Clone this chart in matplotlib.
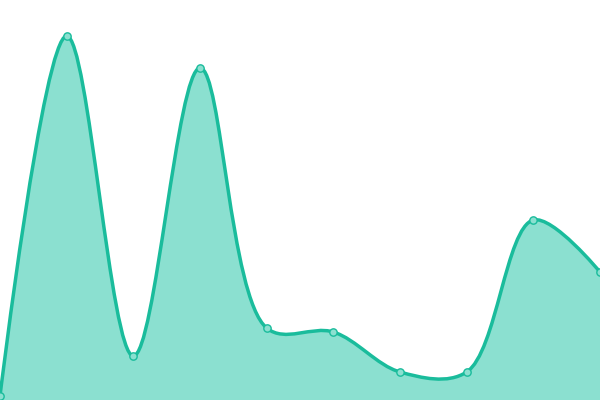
import matplotlib
matplotlib.use("Agg")
import matplotlib.pyplot as plt
from matplotlib.path import Path
from matplotlib.patches import PathPatch
import numpy as np

# data
x_index = [0, 1, 2, 3, 4, 5, 6, 7, 8, 9]
values = [4, 364, 44, 332, 72, 68, 28, 28, 180, 128]

LINE = "#1abc9c"
FILL = "#8be0d0"
POINT = "#8be0d0"
ALPHA = 0.5
EPS = 1e-12

fig = plt.figure(figsize=(6, 4), dpi=100)
ax = fig.add_axes([0, 0, 1, 1])
ax.set_xlim(0, 9)
ax.set_ylim(0, 400)
ax.axis("off")

xs = np.array(x_index, dtype=float)
ys = np.array(values, dtype=float)
n = len(xs)

sx = 600.0 / 9.0
P = np.column_stack([xs * sx, ys])

def to_data(q):
    return (q[0] / sx, q[1])

verts = [to_data(P[0])]
codes = [Path.MOVETO]
for i in range(n - 1):
    p0 = P[max(i - 1, 0)]
    p1 = P[i]
    p2 = P[i + 1]
    p3 = P[min(i + 2, n - 1)]
    l01 = np.hypot(*(p1 - p0))
    l12 = np.hypot(*(p2 - p1))
    l23 = np.hypot(*(p3 - p2))
    l01a, l12a, l23a = l01 ** ALPHA, l12 ** ALPHA, l23 ** ALPHA
    l01_2a, l12_2a, l23_2a = l01a ** 2, l12a ** 2, l23a ** 2
    c1 = p1.copy()
    c2 = p2.copy()
    if l01a > EPS:
        a = 2 * l01_2a + 3 * l01a * l12a + l12_2a
        m = 3 * l01a * (l01a + l12a)
        c1 = (p1 * a - p0 * l12_2a + p2 * l01_2a) / m
    if l23a > EPS:
        b = 2 * l23_2a + 3 * l23a * l12a + l12_2a
        m = 3 * l23a * (l23a + l12a)
        c2 = (p2 * b + p1 * l23_2a - p3 * l12_2a) / m
    verts += [to_data(c1), to_data(c2), to_data(p2)]
    codes += [Path.CURVE4] * 3

line_path = Path(verts, codes)
fill_verts = verts + [(xs[-1], 0), (xs[0], 0), (xs[0], ys[0])]
fill_codes = codes + [Path.LINETO, Path.LINETO, Path.CLOSEPOLY]
fill_path = Path(fill_verts, fill_codes)

ax.add_patch(PathPatch(fill_path, facecolor=FILL, edgecolor="none"))
ax.add_patch(PathPatch(line_path, facecolor="none", edgecolor=LINE, lw=2.5))
ax.scatter(xs, ys, s=28, facecolor=POINT, edgecolor=LINE, linewidth=1.0, zorder=5)

fig.savefig("out.png", dpi=100)
